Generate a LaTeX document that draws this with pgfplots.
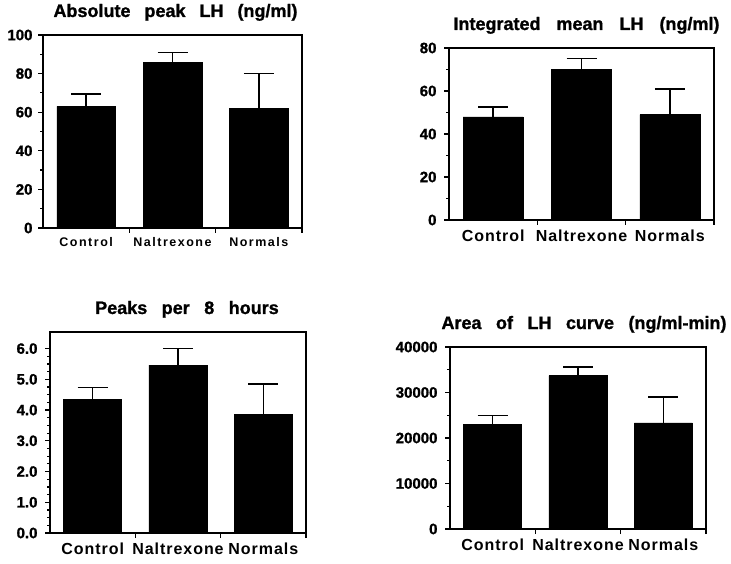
\documentclass[border=0pt]{standalone}
\usepackage{fontspec}
\setmainfont{Liberation Sans}
\newfontfamily\boldfont[FakeBold=1.2]{Liberation Sans Bold}
\newfontfamily\catfont[LetterSpace=6]{Liberation Sans Bold}
\newfontfamily\catfontwide[LetterSpace=12]{Liberation Sans Bold}
\newcommand\titlefont{\boldfont\fontsize{18}{18}\selectfont\spaceskip 14.5pt\relax}
\newcommand\widetitlefont{\boldfont\fontsize{18}{18}\selectfont\spaceskip 16pt\relax}
\newcommand\firsttitlefont{\boldfont\fontsize{18}{18}\selectfont\spaceskip 14pt\relax}
\usepackage{pgfplots}
\pgfplotsset{compat=1.18}

\pgfplotsset{
  lhpanel/.style={
    scale only axis,
    anchor=south west,
    xmin=0, xmax=3, ymin=0,
    axis line style={line width=1.3pt},
    tick align=outside,
    xtick pos=bottom, ytick pos=left,
    major tick length=5pt, minor tick length=3pt,
    every tick/.style={black, line width=1.2pt},
    minor y tick num=1,
    xtick={1,2,3}, xticklabels={},
    extra x ticks={0.5,1.5,2.5},
    extra x tick labels={Control,Naltrexone,Normals},
    extra x tick style={major tick length=0pt},
    /pgf/number format/assume math mode=true,
    ticklabel style={font=\boldfont\fontsize{15}{15}\selectfont},
    yticklabel style={xshift=-4pt},
    xticklabel style={font=\catfont\fontsize{16}{16}\selectfont, yshift=-6pt},
    title style={at={(0.5,1)}, anchor=base, yshift=12pt, font=\titlefont},
    ybar, bar width=0.68,
  },
  lhbar/.style={fill=black, draw=black,
    error bars/.cd, y dir=plus, y explicit,
    error bar style={line width=1.5pt},
    error mark options={line width=1.5pt, mark size=15pt, rotate=90}},
}

\begin{document}
\begin{tikzpicture}
\useasboundingbox (0,0) rectangle (731pt,563pt);

% top left
\begin{axis}[lhpanel, at={(43pt,335pt)}, width=259pt, height=193pt,
  ymax=100, ytick={0,20,...,100},
  title={Absolute peak LH (ng/ml)},
  title style={xshift=3pt, font=\firsttitlefont},
  yticklabel style={xshift=2pt},
  xticklabel style={font=\catfontwide\fontsize{12.5}{12.5}\selectfont}]
\addplot[lhbar] coordinates {(0.5,63) +- (0,6.5) (1.5,86) +- (0,5) (2.5,62) +- (0,18)};
\end{axis}

% top right
\begin{axis}[lhpanel, at={(449pt,343pt)}, width=265pt, height=172pt,
  ymax=80, ytick={0,20,...,80},
  title={Integrated mean LH (ng/ml)},
  title style={xshift=5pt, font=\widetitlefont}]
\addplot[lhbar] coordinates {(0.5,48) +- (0,4.5) (1.5,70) +- (0,5) (2.5,49) +- (0,12)};
\end{axis}

% bottom left
\begin{axis}[lhpanel, at={(50pt,30pt)}, width=256pt, height=201pt,
  ymax=6.54, ytick={0,1,...,6}, minor y tick num=3,
  yticklabel style={/pgf/number format/.cd, fixed, fixed zerofill, precision=1},
  title={Peaks per 8 hours}, title style={xshift=9pt}]
\addplot[lhbar] coordinates {(0.5,4.35) +- (0,0.38) (1.5,5.46) +- (0,0.55) (2.5,3.87) +- (0,0.98)};
\end{axis}

% bottom right
\begin{axis}[lhpanel, at={(450pt,34pt)}, width=256pt, height=182pt,
  ymax=40000, ytick={0,10000,...,40000},
  scaled y ticks=false,
  yticklabel style={/pgf/number format/.cd, fixed, 1000 sep={}},
  title={Area of LH curve (ng/ml-min)}, title style={xshift=6pt}]
\addplot[lhbar] coordinates {(0.5,23000) +- (0,2000) (1.5,33700) +- (0,1900) (2.5,23300) +- (0,5700)};
\end{axis}
\end{tikzpicture}
\end{document}
